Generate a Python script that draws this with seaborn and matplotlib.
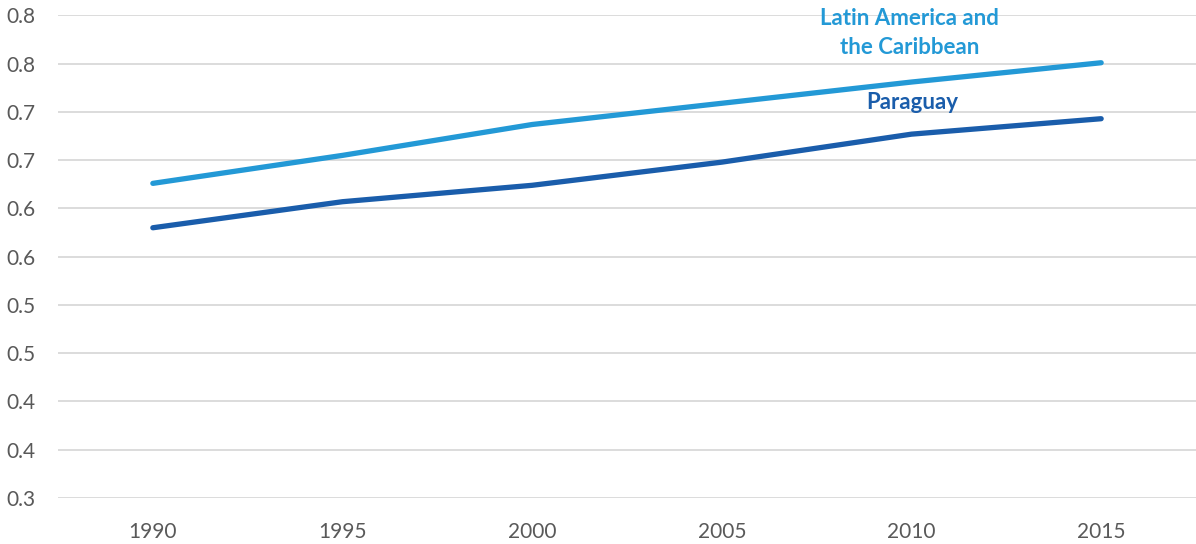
import matplotlib
matplotlib.use("Agg")
import matplotlib.pyplot as plt
import seaborn as sns
import pandas as pd

years = ["1990", "1995", "2000", "2005", "2010", "2015"]
lac = [0.626, 0.655, 0.687, 0.709, 0.731, 0.751]
paraguay = [0.580, 0.607, 0.624, 0.648, 0.677, 0.693]
series_names = ["Latin America and\nthe Caribbean", "Paraguay"]
y_ticks = [0.30, 0.35, 0.40, 0.45, 0.50, 0.55, 0.60, 0.65, 0.70, 0.75, 0.80]
y_tick_labels = ["0.3", "0.4", "0.4", "0.5", "0.5", "0.6", "0.6", "0.7", "0.7", "0.8", "0.8"]

colors = {series_names[0]: "#2399D6", series_names[1]: "#1A5DAB"}

df = pd.DataFrame({
    "year": years * 2,
    "value": lac + paraguay,
    "series": [series_names[0]] * len(years) + [series_names[1]] * len(years),
})

sns.set_theme(style="white")
plt.rcParams["font.family"] = ["Lato", "DejaVu Sans"]

fig = plt.figure(figsize=(11.96, 5.44), dpi=100)
ax = fig.add_axes([0.0485, 0.0846, 0.9515, 0.887])

sns.lineplot(data=df, x="year", y="value", hue="series", palette=colors,
             linewidth=3.8, ax=ax, legend=False, sort=False,
             solid_capstyle="round")

ax.set_xlim(-0.5, len(years) - 0.5)
ax.set_ylim(0.30, 0.80)
ax.set_yticks(y_ticks)
ax.set_yticklabels(y_tick_labels)
ax.grid(axis="y", color="#D9D9D9", linewidth=1.3)
ax.set_axisbelow(True)
for s in ax.spines.values():
    s.set_visible(False)
ax.set_xlabel("")
ax.set_ylabel("")
ax.tick_params(axis="both", length=0, labelsize=15, labelcolor="#595959")
ax.tick_params(axis="y", pad=16)
ax.tick_params(axis="x", pad=17)

ax.text(3.99, 0.782, series_names[0], ha="center", va="center",
        fontsize=16, fontweight="bold", color=colors[series_names[0]],
        linespacing=1.45)
ax.text(4.005, 0.710, series_names[1], ha="center", va="center",
        fontsize=16, fontweight="bold", color=colors[series_names[1]])

fig.savefig("out.png", dpi=100)
